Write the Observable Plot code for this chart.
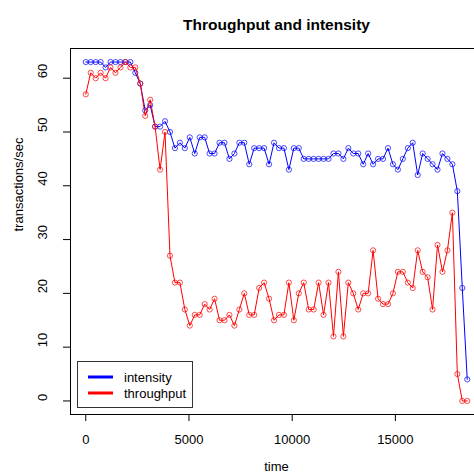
<!DOCTYPE html>
<html>
<head>
<meta charset="utf-8">
<script src="https://cdn.jsdelivr.net/npm/d3@7"></script>
<script src="https://cdn.jsdelivr.net/npm/@observablehq/plot@0.6"></script>
<style>
  html, body { margin: 0; padding: 0; overflow: hidden; background: #fff; }
  #chart { width: 474px; height: 473px; overflow: hidden; }
  #chart svg { max-width: none !important; width: 490px !important; height: 473px !important; }
</style>
</head>
<body>
<div id="chart"></div>
<script>
const time = [0,240,480,720,960,1200,1440,1680,1920,2160,
  2400,2640,2880,3120,3360,3600,3840,4080,4320,4560,
  4800,5040,5280,5520,5760,6000,6240,6480,6720,6960,
  7200,7440,7680,7920,8160,8400,8640,8880,9120,9360,
  9600,9840,10080,10320,10560,10800,11040,11280,11520,11760,
  12000,12240,12480,12720,12960,13200,13440,13680,13920,14160,
  14400,14640,14880,15120,15360,15600,15840,16080,16320,16560,
  16800,17040,17280,17520,17760,18000,18240,18480];

const intensity = [63,63,63,63,62,63,63,63,63,63,
  61,59,54,55,51,51,52,50,47,48,
  47,49,46,49,49,46,46,48,48,45,
  46,48,48,44,47,47,47,44,48,47,
  47,43,47,47,45,45,45,45,45,45,
  46,46,45,47,46,46,44,46,44,45,
  45,47,44,43,45,47,48,42,46,45,
  44,43,46,45,44,39,21,4];

const throughput = [57,61,60,61,60,62,61,62,63,62,
  62,59,53,56,51,43,50,27,22,22,
  17,14,16,16,18,17,19,15,15,16,
  14,17,20,16,16,21,22,19,15,16,
  16,22,15,20,22,17,17,22,16,22,
  12,24,12,22,20,17,20,20,28,19,
  18,18,20,24,24,22,21,28,24,23,
  17,29,24,28,35,5,0,0];

const seriesNames = ["intensity", "throughput"];
const seriesColors = ["#0000ff", "#ff0000"];
const xTicks = [0, 5000, 10000, 15000];
const yTicks = [0, 10, 20, 30, 40, 50, 60];
const titleText = "Throughput and intensity";
const xLabel = "time";
const yLabel = "transactions/sec";

const intensityData = time.map((t, i) => ({t, v: intensity[i]}));
const throughputData = time.map((t, i) => ({t, v: throughput[i]}));

// R-style 4% padding of the data range
const xMin = d3.min(time), xMax = d3.max(time);
const yAll = intensity.concat(throughput);
const yMin = d3.min(yAll), yMax = d3.max(yAll);
const xPad = (xMax - xMin) * 0.04, yPad = (yMax - yMin) * 0.04;

const font = "'Liberation Sans', Arial, Helvetica, sans-serif";

const svg = Plot.plot({
  width: 490,
  height: 473,
  marginLeft: 70,
  marginRight: 8,
  marginTop: 48,
  marginBottom: 59,
  style: {fontFamily: font, fontSize: "13px", background: "#fff", color: "#000"},
  x: {domain: [xMin - xPad, xMax + xPad]},
  y: {domain: [yMin - yPad, yMax + yPad]},
  marks: [
    Plot.frame({stroke: "#000"}),
    Plot.axisX({ticks: xTicks, tickSize: 7, tickPadding: 13, fontSize: 13, label: null, tickFormat: d => String(d)}),
    Plot.axisY({ticks: yTicks, tickSize: 7, tickFormat: () => "", label: null}),
    Plot.text(yTicks, {y: d => d, text: d => String(d), frameAnchor: "left", dx: -28, rotate: -90, fontSize: 13}),
    Plot.text([titleText], {frameAnchor: "top", dy: -30, fontWeight: "bold", fontSize: 15.5}),
    Plot.text([xLabel], {frameAnchor: "bottom", dy: 56, fontSize: 13}),
    Plot.text([yLabel], {frameAnchor: "left", dx: -52, rotate: -90, fontSize: 13}),
    Plot.line(intensityData, {x: "t", y: "v", stroke: seriesColors[0], strokeWidth: 1}),
    Plot.dot(intensityData, {x: "t", y: "v", r: 2.6, stroke: seriesColors[0], strokeWidth: 1, strokeOpacity: 0.7, fill: "none"}),
    Plot.line(throughputData, {x: "t", y: "v", stroke: seriesColors[1], strokeWidth: 1}),
    Plot.dot(throughputData, {x: "t", y: "v", r: 2.6, stroke: seriesColors[1], strokeWidth: 1, strokeOpacity: 0.7, fill: "none"})
  ]
});
svg.style.maxWidth = "none";
svg.style.width = "490px";
svg.style.height = "473px";

// Legend inside the plot, bottom-left (like R's legend("bottomleft"))
const lg = d3.select(svg).append("g").attr("font-family", font).attr("font-size", 13)
  .attr("text-anchor", "start");
lg.append("rect").attr("x", 77.5).attr("y", 361.5).attr("width", 115).attr("height", 46)
  .attr("fill", "#fff").attr("stroke", "#333").attr("stroke-width", 1);
seriesNames.forEach((name, i) => {
  const yy = 377 + i * 16;
  lg.append("line").attr("x1", 88).attr("x2", 113).attr("y1", yy).attr("y2", yy)
    .attr("stroke", seriesColors[i]).attr("stroke-width", 3);
  lg.append("text").attr("x", 124).attr("y", yy).attr("dy", "0.35em")
    .attr("text-anchor", "start").attr("fill", "#000").text(name);
});

document.getElementById("chart").appendChild(svg);
</script>
</body>
</html>
